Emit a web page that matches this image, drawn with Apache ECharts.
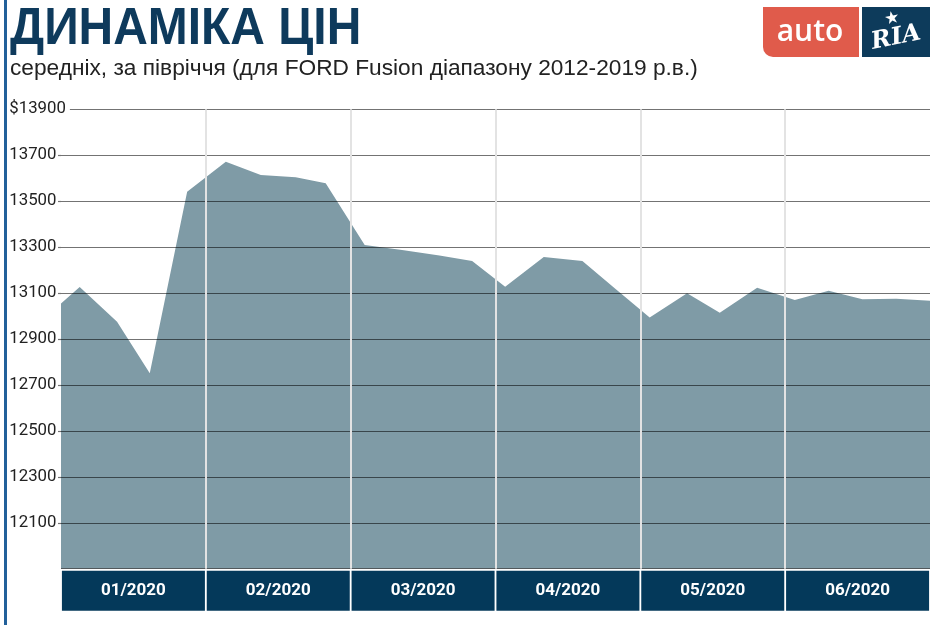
<!DOCTYPE html>
<html>
<head>
<meta charset="utf-8">
<script src="https://cdn.jsdelivr.net/npm/echarts@6/dist/echarts.min.js"></script>
<style>
html,body{margin:0;padding:0;background:#fff;}
#chart{width:940px;height:625px;}
</style>
</head>
<body>
<div id="chart"></div>
<script>
// ---- data ----
const months = ['01/2020', '02/2020', '03/2020', '04/2020', '05/2020', '06/2020'];
const dates = ['2020-01-01', '2020-01-05', '2020-01-13', '2020-01-20', '2020-01-28',
  '2020-02-05', '2020-02-12', '2020-02-19', '2020-02-25',
  '2020-03-04', '2020-03-12', '2020-03-20', '2020-03-27',
  '2020-04-03', '2020-04-11', '2020-04-19', '2020-04-26',
  '2020-05-03', '2020-05-11', '2020-05-18', '2020-05-26',
  '2020-06-03', '2020-06-10', '2020-06-17', '2020-06-24', '2020-07-01'];
const prices = [13055, 13126, 12975, 12751, 13541,
  13672, 13614, 13604, 13578,
  13309, 13287, 13263, 13240,
  13128, 13257, 13240, 13115,
  12994, 13099, 13014, 13123,
  13070, 13110, 13073, 13075, 13067];
const yTicks = [12100, 12300, 12500, 12700, 12900, 13100, 13300, 13500, 13700, 13900];
const yMin = 11900, yMax = 13900, yStep = 200;
const title = 'ДИНАМІКА ЦІН';
const subtitle = 'середніх, за півріччя (для FORD Fusion діапазону 2012-2019 р.в.)';

// each month occupies an equal band; position = month index + fraction of month
const daysInMonth = [31, 29, 31, 30, 31, 30, 31];
function monthPos(d) {
  const p = d.split('-');
  const m = parseInt(p[1], 10) - 1;
  const day = parseInt(p[2], 10);
  return m + (day - 1) / daysInMonth[m];
}
const seriesData = dates.map((d, i) => [monthPos(d), prices[i]]);

const chart = echarts.init(document.getElementById('chart'), null, {renderer: 'canvas'});
const gridColor = 'rgba(0,0,0,0.55)';
const option = {
  animation: false,
  backgroundColor: '#fff',
  grid: {left: 61, top: 109.3, width: 869, height: 459.4, containLabel: false},
  xAxis: [
    {type: 'value', min: 0, max: months.length, show: false},
    {
      type: 'category', data: months, position: 'bottom', boundaryGap: true, z: 4,
      axisLine: {show: false}, axisTick: {show: false},
      splitLine: {show: true, showMinLine: false, showMaxLine: false,
        lineStyle: {color: '#e3e3e3', width: 2}},
      axisLabel: {
        color: '#fff', fontWeight: 'bold', fontSize: 17, fontFamily: 'Roboto',
        backgroundColor: '#04395a', width: 143, height: 40, lineHeight: 40,
        align: 'center', verticalAlign: 'top', margin: 2
      }
    }
  ],
  yAxis: {
    type: 'value', min: yMin, max: yMax, interval: yStep, z: 3,
    axisLine: {show: false},
    axisTick: {show: true, length: 3, lineStyle: {color: gridColor, width: 1.2}},
    splitLine: {show: true, lineStyle: {color: gridColor, width: 1.2}},
    axisLabel: {
      showMinLabel: false, margin: 51.7, align: 'left', fontSize: 16.8, color: '#222',
      fontFamily: 'Roboto',
      formatter: v => (yTicks.indexOf(v) < 0 ? '' : (v === yMax ? '{top|$' + v + '}' : String(v))),
      rich: {top: {fontSize: 16.8, color: '#222', fontFamily: 'Roboto',
        backgroundColor: '#fff', padding: [3, 4, 3, 0]}}
    }
  },
  series: [{
    type: 'line', xAxisIndex: 0, data: seriesData, symbol: 'none', z: 2,
    lineStyle: {width: 0},
    areaStyle: {color: '#7f9ba6', opacity: 1, origin: 'start'}
  }],
  graphic: [
    {type: 'rect', shape: {x: 4, y: 0, width: 3, height: 625}, style: {fill: '#22609a'}, silent: true},
    {type: 'text', x: 10, y: 29.5, scaleX: 0.94,
      style: {text: title, x: 0, y: 0, font: 'bold 51px "Liberation Sans", Arial, sans-serif',
        fill: '#0e3a5c', align: 'left', verticalAlign: 'middle'}},
    {type: 'text', x: 10, y: 69,
      style: {text: subtitle, x: 0, y: 0, font: '22.7px "Liberation Sans", Arial, sans-serif', fill: '#222',
        align: 'left', verticalAlign: 'middle'}},
    {type: 'rect', shape: {x: 763, y: 7, width: 96, height: 50, r: [0, 0, 0, 10]}, style: {fill: '#e05b4b'}},
    {type: 'rect', shape: {x: 862, y: 7, width: 68, height: 50}, style: {fill: '#0d3b5b'}},
    {type: 'text', x: 810, y: 32,
      style: {text: 'auto', x: 0, y: 0, font: '600 30px "Open Sans", sans-serif', fill: '#fff',
        align: 'center', verticalAlign: 'middle'}},
    {type: 'text', x: 896, y: 38, rotation: 0.2,
      style: {text: 'RIA', x: 0, y: 0, font: 'italic bold 24px "DejaVu Serif", serif', fill: '#fff',
        align: 'center', verticalAlign: 'middle'}},
    {type: 'text', x: 892, y: 19, rotation: 0.2,
      style: {text: '★', x: 0, y: 0, font: '17px "DejaVu Sans", sans-serif', fill: '#fff',
        align: 'center', verticalAlign: 'middle'}}
  ]
};
chart.setOption(option);
</script>
</body>
</html>
